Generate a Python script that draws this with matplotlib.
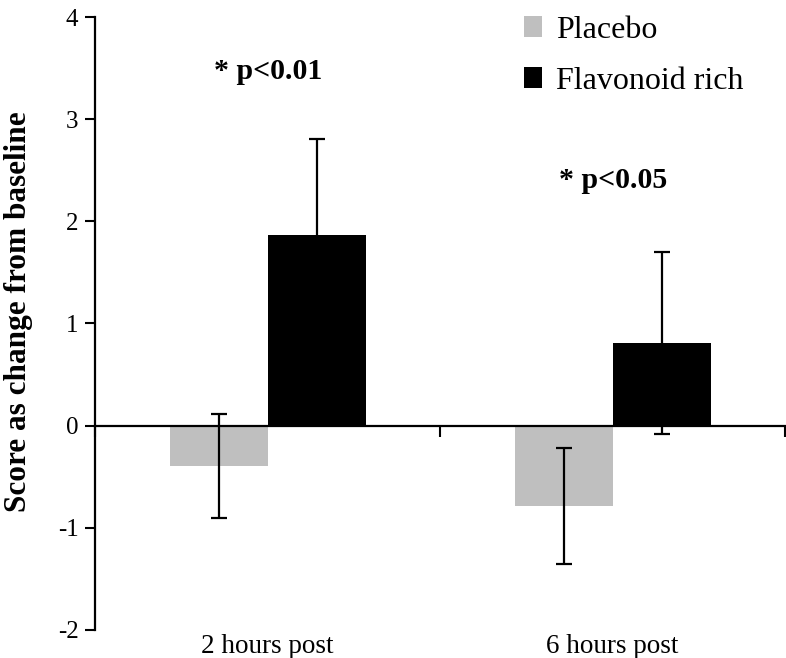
import matplotlib.pyplot as plt
import numpy as np

plt.rcParams['font.family'] = ['Liberation Serif', 'DejaVu Serif']
plt.rcParams['axes.unicode_minus'] = False

categories = ['2 hours post', '6 hours post']
groups = ['Placebo', 'Flavonoid rich']
placebo = [-0.40, -0.79]
placebo_err = [0.51, 0.57]
flavonoid = [1.87, 0.81]
flavonoid_err = [0.94, 0.89]
annotations = ['* p<0.01', '* p<0.05']
annot_y = [3.47, 2.40]

colors = ['#bfbfbf', '#000000']

fig = plt.figure(figsize=(7.86, 6.58), dpi=100)
ax = fig.add_axes([0.121, 0.043, 0.878, 0.931])

x = np.arange(len(categories))
w = 0.284
err_kw = dict(ecolor='black', elinewidth=1.6, capsize=6, capthick=1.6)
ax.bar(x - w / 2, placebo, w, yerr=placebo_err, color=colors[0],
       label=groups[0], error_kw=err_kw, zorder=2)
ax.bar(x + w / 2, flavonoid, w, yerr=flavonoid_err, color=colors[1],
       label=groups[1], error_kw=err_kw, zorder=2)

for xi, txt, yy in zip(x, annotations, annot_y):
    ax.text(xi, yy, txt, ha='center', va='center', fontsize=21.5, fontweight='bold')

# category labels sit below the axis, the x spine runs through zero
for xi, cat in zip(x, categories):
    ax.text(xi, -2.04, cat, ha='center', va='top', fontsize=19.5)

ax.set_xlim(-0.5, 1.5)
ax.set_ylim(-2, 4)
ax.set_yticks(range(-2, 5))
ax.tick_params(axis='y', labelsize=18, width=1.5, length=7, pad=5, direction='out')
ax.set_xticks([-0.5, 0.5, 1.5])
ax.set_xticklabels([])
ax.tick_params(axis='x', width=1.5, length=8, direction='out')
ax.spines['bottom'].set_position(('data', 0))
ax.spines['bottom'].set_linewidth(1.6)
ax.spines['bottom'].set_zorder(3)
ax.spines['left'].set_linewidth(1.6)
ax.spines['top'].set_visible(False)
ax.spines['right'].set_visible(False)

ax.set_ylabel('Score as change from baseline', fontsize=22.5, fontweight='bold')
ax.yaxis.set_label_coords(-0.09, 0.519)

ax.legend(loc='upper left', bbox_to_anchor=(0.622, 1.002), frameon=False, fontsize=23,
          handlelength=0.55, handleheight=0.62, handletextpad=0.45, labelspacing=0.68,
          borderpad=0, borderaxespad=0)

fig.savefig('out.png', dpi=100)
